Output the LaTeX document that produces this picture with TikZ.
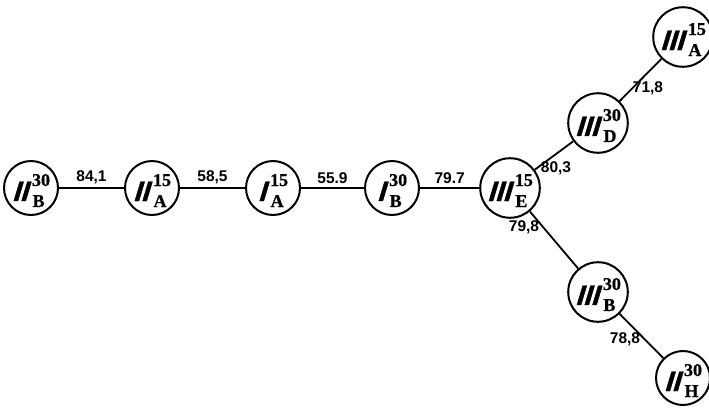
\documentclass[tikz,border=0pt]{standalone}
\usepackage{fontspec}
\newfontfamily\rnfontfam[FakeSlant=0.3,FakeBold=1.5]{Liberation Sans Bold}
\newfontfamily\lblfontfam{Liberation Sans Bold}
\newfontfamily\scfontfam[FakeBold=0.8]{Liberation Serif Bold}
\newcommand\rnfont{\rnfontfam\fontsize{28}{28}\selectfont}
\newcommand\scfont{\scfontfam\fontsize{18}{18}\selectfont}
\newcommand\edgefont{\lblfontfam\fontsize{15.5}{15.5}\selectfont}
\newsavebox\supbox
\newcommand\nlab[3]{\rule{0pt}{32pt}{\rnfont #1}\kern4.5pt\sbox\supbox{\scfont #2}\rlap{\raisebox{15pt}{\usebox\supbox}}\makebox[\wd\supbox][l]{\kern0.5pt\raisebox{-6pt}{\scfont #3}}}
\begin{document}
\begin{tikzpicture}[x=1pt,y=-1pt,
  vtx/.style={circle,draw,line width=2pt,minimum size=54pt,inner sep=0pt},
  edge/.style={line width=1.8pt},
  elab/.style={font=\edgefont,inner sep=1pt}]
\useasboundingbox (0,0) rectangle (709,407);
\node[vtx] (IIB) at (31,188) {\nlab{II}{30}{B}};
\node[vtx] (IIA) at (152,188) {\nlab{II}{15}{A}};
\node[vtx] (IA) at (273,188) {\nlab{I}{15}{A}};
\node[vtx] (IB) at (392,188) {\nlab{I}{30}{B}};
\node[vtx] (IIIE) at (510,188) {\nlab{III}{15}{E}};
\node[vtx] (IIID) at (598,123) {\nlab{III}{30}{D}};
\node[vtx] (IIIA) at (683,37) {\nlab{III}{15}{A}};
\node[vtx] (IIIB) at (598,292) {\nlab{III}{30}{B}};
\node[vtx] (IIH) at (683,378) {\nlab{II}{30}{H}};
\draw[edge] (IIB) -- node[elab,above=2pt] {84,1} (IIA);
\draw[edge] (IIA) -- node[elab,above=2pt] {58,5} (IA);
\draw[edge] (IA) -- node[elab,above=2pt] {55.9} (IB);
\draw[edge] (IB) -- node[elab,above=2pt] {79.7} (IIIE);
\draw[edge] (IIIE) -- (IIID);
\draw[edge] (IIID) -- (IIIA);
\draw[edge] (IIIE) -- (IIIB);
\draw[edge] (IIIB) -- (IIH);
\node[elab] (l1) at (556,168) {80,3};
\node[elab] (l2) at (648,88) {71,8};
\node[elab] (l3) at (524,227) {79,8};
\node[elab] (l4) at (625,339) {78,8};
\end{tikzpicture}
\end{document}
